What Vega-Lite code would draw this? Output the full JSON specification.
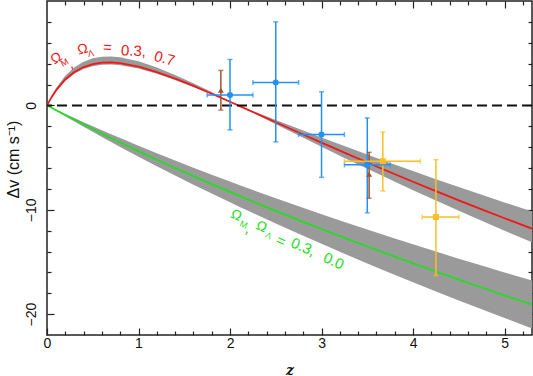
{
  "$schema": "https://vega.github.io/schema/vega-lite/v6.json",
  "width": 485,
  "height": 334,
  "autosize": {"type": "none"},
  "padding": {"left": 47, "top": 1, "right": 1, "bottom": 41},
  "background": "white",
  "config": {
    "view": {"stroke": "#222", "strokeWidth": 1.5},
    "axis": {"domain": false, "grid": false, "labelFont": "Liberation Sans", "labelFontSize": 14, "labelColor": "#111", "tickColor": "#222", "tickWidth": 1.2, "titleColor": "#111"}
  },
  "datasets": {
    "curves": [
      {"z": 0, "r": 0, "rLo": 0, "rHi": 0, "g": 0, "gLo": 0, "gHi": 0},
      {"z": 0.05, "r": 0.786, "rLo": 0.747, "rHi": 0.896, "g": -0.234, "gLo": -0.262, "gHi": -0.206},
      {"z": 0.1, "r": 1.452, "rLo": 1.379, "rHi": 1.655, "g": -0.466, "gLo": -0.522, "gHi": -0.41},
      {"z": 0.2, "r": 2.485, "rLo": 2.361, "rHi": 2.833, "g": -0.926, "gLo": -1.036, "gHi": -0.815},
      {"z": 0.3, "r": 3.2, "rLo": 3.04, "rHi": 3.648, "g": -1.379, "gLo": -1.544, "gHi": -1.213},
      {"z": 0.4, "r": 3.672, "rLo": 3.488, "rHi": 4.186, "g": -1.825, "gLo": -2.044, "gHi": -1.606},
      {"z": 0.5, "r": 3.955, "rLo": 3.757, "rHi": 4.509, "g": -2.266, "gLo": -2.538, "gHi": -1.995},
      {"z": 0.6, "r": 4.092, "rLo": 3.887, "rHi": 4.665, "g": -2.702, "gLo": -3.026, "gHi": -2.378},
      {"z": 0.7, "r": 4.113, "rLo": 3.907, "rHi": 4.689, "g": -3.131, "gLo": -3.507, "gHi": -2.755},
      {"z": 0.8, "r": 4.045, "rLo": 3.843, "rHi": 4.611, "g": -3.555, "gLo": -3.982, "gHi": -3.129},
      {"z": 1.0, "r": 3.709, "rLo": 3.524, "rHi": 4.228, "g": -4.389, "gLo": -4.917, "gHi": -3.862},
      {"z": 1.2, "r": 3.193, "rLo": 3.033, "rHi": 3.64, "g": -5.204, "gLo": -5.828, "gHi": -4.579},
      {"z": 1.4, "r": 2.562, "rLo": 2.434, "rHi": 2.921, "g": -6.0, "gLo": -6.72, "gHi": -5.28},
      {"z": 1.6, "r": 1.861, "rLo": 1.768, "rHi": 2.122, "g": -6.78, "gLo": -7.594, "gHi": -5.966},
      {"z": 1.8, "r": 1.116, "rLo": 1.06, "rHi": 1.272, "g": -7.545, "gLo": -8.45, "gHi": -6.64},
      {"z": 2.0, "r": 0.346, "rLo": 0.329, "rHi": 0.394, "g": -8.294, "gLo": -9.289, "gHi": -7.299},
      {"z": 2.1, "r": -0.044, "rLo": -0.049, "rHi": -0.038, "g": -8.664, "gLo": -9.703, "gHi": -7.624},
      {"z": 2.25, "r": -0.633, "rLo": -0.703, "rHi": -0.544, "g": -9.212, "gLo": -10.318, "gHi": -8.106},
      {"z": 2.5, "r": -1.619, "rLo": -1.797, "rHi": -1.392, "g": -10.109, "gLo": -11.322, "gHi": -8.896},
      {"z": 2.75, "r": -2.6, "rLo": -2.886, "rHi": -2.236, "g": -10.988, "gLo": -12.306, "gHi": -9.67},
      {"z": 3.0, "r": -3.572, "rLo": -3.965, "rHi": -3.072, "g": -11.847, "gLo": -13.269, "gHi": -10.425},
      {"z": 3.25, "r": -4.532, "rLo": -5.031, "rHi": -3.898, "g": -12.692, "gLo": -14.215, "gHi": -11.169},
      {"z": 3.5, "r": -5.477, "rLo": -6.079, "rHi": -4.71, "g": -13.519, "gLo": -15.141, "gHi": -11.897},
      {"z": 3.75, "r": -6.406, "rLo": -7.111, "rHi": -5.509, "g": -14.332, "gLo": -16.052, "gHi": -12.612},
      {"z": 4.0, "r": -7.32, "rLo": -8.125, "rHi": -6.295, "g": -15.13, "gLo": -16.946, "gHi": -13.314},
      {"z": 4.25, "r": -8.217, "rLo": -9.121, "rHi": -7.067, "g": -15.916, "gLo": -17.826, "gHi": -14.006},
      {"z": 4.5, "r": -9.099, "rLo": -10.1, "rHi": -7.825, "g": -16.687, "gLo": -18.689, "gHi": -14.685},
      {"z": 4.75, "r": -9.964, "rLo": -11.06, "rHi": -8.569, "g": -17.447, "gLo": -19.541, "gHi": -15.353},
      {"z": 5.0, "r": -10.815, "rLo": -12.005, "rHi": -9.301, "g": -18.195, "gLo": -20.378, "gHi": -16.012},
      {"z": 5.3, "r": -11.816, "rLo": -13.116, "rHi": -10.162, "g": -19.079, "gLo": -21.368, "gHi": -16.79}
    ],
    "points": [
      {"src": "brown", "z": 1.9, "dv": 1.45, "zlo": 1.9, "zhi": 1.9, "lo": -0.45, "hi": 3.35},
      {"src": "blue", "z": 2.0, "dv": 1.0, "zlo": 1.75, "zhi": 2.25, "lo": -2.35, "hi": 4.4},
      {"src": "blue", "z": 2.5, "dv": 2.2, "zlo": 2.25, "zhi": 2.75, "lo": -3.5, "hi": 8.0},
      {"src": "blue", "z": 3.0, "dv": -2.8, "zlo": 2.75, "zhi": 3.25, "lo": -6.9, "hi": 1.3},
      {"src": "blue", "z": 3.5, "dv": -5.7, "zlo": 3.25, "zhi": 3.75, "lo": -10.3, "hi": -1.2},
      {"src": "brown", "z": 3.52, "dv": -6.6, "zlo": 3.52, "zhi": 3.52, "lo": -8.9, "hi": -4.5},
      {"src": "yellow", "z": 3.67, "dv": -5.35, "zlo": 3.25, "zhi": 4.08, "lo": -8.2, "hi": -2.55},
      {"src": "yellow", "z": 4.25, "dv": -10.7, "zlo": 4.1, "zhi": 4.5, "lo": -16.3, "hi": -5.2}
    ],
    "zero": [{"ref": 0}],
    "labels": [
      {"grp": "rA", "z": 0.105, "dv": 4.5, "t": "Ω"},
      {"grp": "rAc", "z": 0.255, "dv": 4.0, "t": ","},
      {"grp": "rAs", "z": 0.19, "dv": 4.1, "t": "M"},
      {"grp": "rB", "z": 0.392, "dv": 5.35, "t": "Ω"},
      {"grp": "rBs", "z": 0.48, "dv": 4.98, "t": "Λ"},
      {"grp": "rC", "z": 0.66, "dv": 5.57, "t": "="},
      {"grp": "rC", "z": 0.945, "dv": 5.23, "t": "0.3,"},
      {"grp": "rD", "z": 1.284, "dv": 4.51, "t": "0.7"},
      {"grp": "gO", "z": 2.067, "dv": -10.55, "t": "Ω"},
      {"grp": "gO", "z": 2.344, "dv": -11.65, "t": "Ω"},
      {"grp": "g", "z": 2.2, "dv": -11.8, "t": ","},
      {"grp": "g", "z": 2.558, "dv": -13.0, "t": "="},
      {"grp": "g", "z": 2.8, "dv": -13.56, "t": "0.3,"},
      {"grp": "g", "z": 3.133, "dv": -14.91, "t": "0.0"},
      {"grp": "gs", "z": 2.15, "dv": -11.42, "t": "M"},
      {"grp": "gs", "z": 2.42, "dv": -12.5, "t": "Λ"}
    ]
  },
  "resolve": {"axis": {"x": "independent", "y": "independent"}},
  "layer": [
    {
      "data": {"name": "curves"},
      "mark": {"type": "area", "color": "#9a9a9a", "opacity": 1},
      "encoding": {
        "x": {"field": "z", "type": "quantitative", "scale": {"domain": [0, 5.3], "nice": false, "zero": false},
          "axis": {"orient": "bottom", "title": "z", "titleFont": "DejaVu Serif", "titleFontStyle": "italic", "titleFontWeight": "bold", "titleFontSize": 14, "titlePadding": 13,
            "values": [0, 0.2, 0.4, 0.6, 0.8, 1, 1.2, 1.4, 1.6, 1.8, 2, 2.2, 2.4, 2.6, 2.8, 3, 3.2, 3.4, 3.6, 3.8, 4, 4.2, 4.4, 4.6, 4.8, 5, 5.2],
            "labelExpr": "abs(datum.value - round(datum.value)) < 0.01 ? format(datum.value, 'd') : ''",
            "tickSize": {"condition": {"test": "abs(datum.value - round(datum.value)) < 0.01", "value": -7}, "value": -4},
            "labelPadding": 8, "labelFlush": false}},
        "y": {"field": "rLo", "type": "quantitative", "scale": {"domain": [-22, 10], "nice": false, "zero": false},
          "axis": {"orient": "left", "title": "Δv (cm s⁻¹)", "titleFont": "Liberation Sans", "titleFontSize": 16, "titleFontWeight": "normal", "titlePadding": 3, "titleY": 158,
            "values": [-20, -18, -16, -14, -12, -10, -8, -6, -4, -2, 0, 2, 4, 6, 8],
            "labelExpr": "datum.value % 10 === 0 ? format(datum.value, 'd') : ''",
            "labelAngle": -90, "labelAlign": "center", "labelBaseline": "bottom",
            "tickSize": {"condition": {"test": "datum.value % 10 === 0", "value": -7}, "value": -4},
            "labelPadding": 16, "labelFlush": false}},
        "y2": {"field": "rHi"}
      }
    },
    {
      "data": {"name": "curves"},
      "mark": {"type": "area", "color": "#9a9a9a", "opacity": 1},
      "encoding": {
        "x": {"field": "z", "type": "quantitative",
          "axis": {"orient": "top", "title": null, "labels": false,
            "values": [0.2, 0.4, 0.6, 0.8, 1, 1.2, 1.4, 1.6, 1.8, 2, 2.2, 2.4, 2.6, 2.8, 3, 3.2, 3.4, 3.6, 3.8, 4, 4.2, 4.4, 4.6, 4.8, 5, 5.2],
            "tickSize": {"condition": {"test": "abs(datum.value - round(datum.value)) < 0.01", "value": -7}, "value": -4}}},
        "y": {"field": "gLo", "type": "quantitative",
          "axis": {"orient": "right", "title": null, "labels": false,
            "values": [-20, -18, -16, -14, -12, -10, -8, -6, -4, -2, 0, 2, 4, 6, 8],
            "tickSize": {"condition": {"test": "datum.value % 10 === 0", "value": -7}, "value": -4}}},
        "y2": {"field": "gHi"}
      }
    },
    {
      "data": {"name": "curves"},
      "mark": {"type": "line", "color": "#f01818", "strokeWidth": 1.8},
      "encoding": {
        "x": {"field": "z", "type": "quantitative", "axis": null},
        "y": {"field": "r", "type": "quantitative", "axis": null}
      }
    },
    {
      "data": {"name": "curves"},
      "mark": {"type": "line", "color": "#22dd22", "strokeWidth": 1.8},
      "encoding": {
        "x": {"field": "z", "type": "quantitative", "axis": null},
        "y": {"field": "g", "type": "quantitative", "axis": null}
      }
    },
    {
      "data": {"name": "zero"},
      "mark": {"type": "rule", "color": "#111", "strokeWidth": 2, "strokeDash": [10, 5]},
      "encoding": {
        "y": {"field": "ref", "type": "quantitative", "axis": null}
      }
    },
    {
      "data": {"name": "labels"},
      "transform": [{"filter": "datum.grp === 'rA'"}],
      "mark": {"type": "text", "color": "#f01818", "font": "Liberation Sans", "fontSize": 14, "angle": -35, "align": "center", "baseline": "middle"},
      "encoding": {"x": {"field": "z", "type": "quantitative", "axis": null}, "y": {"field": "dv", "type": "quantitative", "axis": null}, "text": {"field": "t"}}
    },
    {
      "data": {"name": "labels"},
      "transform": [{"filter": "datum.grp === 'rAc'"}],
      "mark": {"type": "text", "color": "#f01818", "font": "Liberation Sans", "fontSize": 15, "angle": -25, "align": "center", "baseline": "middle"},
      "encoding": {"x": {"field": "z", "type": "quantitative", "axis": null}, "y": {"field": "dv", "type": "quantitative", "axis": null}, "text": {"field": "t"}}
    },
    {
      "data": {"name": "labels"},
      "transform": [{"filter": "datum.grp === 'rAs'"}],
      "mark": {"type": "text", "color": "#f01818", "font": "Liberation Sans", "fontSize": 9, "angle": -30, "align": "center", "baseline": "middle"},
      "encoding": {"x": {"field": "z", "type": "quantitative", "axis": null}, "y": {"field": "dv", "type": "quantitative", "axis": null}, "text": {"field": "t"}}
    },
    {
      "data": {"name": "labels"},
      "transform": [{"filter": "datum.grp === 'rB'"}],
      "mark": {"type": "text", "color": "#f01818", "font": "Liberation Sans", "fontSize": 14, "angle": -15, "align": "center", "baseline": "middle"},
      "encoding": {"x": {"field": "z", "type": "quantitative", "axis": null}, "y": {"field": "dv", "type": "quantitative", "axis": null}, "text": {"field": "t"}}
    },
    {
      "data": {"name": "labels"},
      "transform": [{"filter": "datum.grp === 'rBs'"}],
      "mark": {"type": "text", "color": "#f01818", "font": "Liberation Sans", "fontSize": 9, "angle": -12, "align": "center", "baseline": "middle"},
      "encoding": {"x": {"field": "z", "type": "quantitative", "axis": null}, "y": {"field": "dv", "type": "quantitative", "axis": null}, "text": {"field": "t"}}
    },
    {
      "data": {"name": "labels"},
      "transform": [{"filter": "datum.grp === 'rC'"}],
      "mark": {"type": "text", "color": "#f01818", "font": "Liberation Sans", "fontSize": 15, "angle": 3, "align": "center", "baseline": "middle"},
      "encoding": {"x": {"field": "z", "type": "quantitative", "axis": null}, "y": {"field": "dv", "type": "quantitative", "axis": null}, "text": {"field": "t"}}
    },
    {
      "data": {"name": "labels"},
      "transform": [{"filter": "datum.grp === 'rD'"}],
      "mark": {"type": "text", "color": "#f01818", "font": "Liberation Sans", "fontSize": 15, "angle": 15, "align": "center", "baseline": "middle"},
      "encoding": {"x": {"field": "z", "type": "quantitative", "axis": null}, "y": {"field": "dv", "type": "quantitative", "axis": null}, "text": {"field": "t"}}
    },
    {
      "data": {"name": "labels"},
      "transform": [{"filter": "datum.grp === 'gO'"}],
      "mark": {"type": "text", "color": "#22dd22", "font": "Liberation Sans", "fontSize": 14, "angle": 24, "align": "center", "baseline": "middle"},
      "encoding": {"x": {"field": "z", "type": "quantitative", "axis": null}, "y": {"field": "dv", "type": "quantitative", "axis": null}, "text": {"field": "t"}}
    },
    {
      "data": {"name": "labels"},
      "transform": [{"filter": "datum.grp === 'g'"}],
      "mark": {"type": "text", "color": "#22dd22", "font": "Liberation Sans", "fontSize": 15, "angle": 24, "align": "center", "baseline": "middle"},
      "encoding": {"x": {"field": "z", "type": "quantitative", "axis": null}, "y": {"field": "dv", "type": "quantitative", "axis": null}, "text": {"field": "t"}}
    },
    {
      "data": {"name": "labels"},
      "transform": [{"filter": "datum.grp === 'gs'"}],
      "mark": {"type": "text", "color": "#22dd22", "font": "Liberation Sans", "fontSize": 9, "angle": 24, "align": "center", "baseline": "middle"},
      "encoding": {"x": {"field": "z", "type": "quantitative", "axis": null}, "y": {"field": "dv", "type": "quantitative", "axis": null}, "text": {"field": "t"}}
    },
    {
      "data": {"name": "points"},
      "mark": {"type": "rule", "strokeWidth": 1.5},
      "encoding": {
        "x": {"field": "z", "type": "quantitative", "axis": null},
        "y": {"field": "lo", "type": "quantitative", "axis": null},
        "y2": {"field": "hi"},
        "color": {"field": "src", "type": "nominal", "scale": {"domain": ["blue", "brown", "yellow"], "range": ["#2290f5", "#a0522d", "#fbbf24"]}, "legend": null}
      }
    },
    {
      "data": {"name": "points"},
      "transform": [{"filter": "datum.zlo < datum.zhi"}],
      "mark": {"type": "rule", "strokeWidth": 1.5},
      "encoding": {
        "x": {"field": "zlo", "type": "quantitative", "axis": null},
        "x2": {"field": "zhi"},
        "y": {"field": "dv", "type": "quantitative", "axis": null},
        "color": {"field": "src", "type": "nominal", "legend": null}
      }
    },
    {
      "data": {"name": "points"},
      "mark": {"type": "tick", "orient": "horizontal", "size": 5, "thickness": 1.5},
      "encoding": {
        "x": {"field": "z", "type": "quantitative", "axis": null},
        "y": {"field": "hi", "type": "quantitative", "axis": null},
        "color": {"field": "src", "type": "nominal", "legend": null}
      }
    },
    {
      "data": {"name": "points"},
      "mark": {"type": "tick", "orient": "horizontal", "size": 5, "thickness": 1.5},
      "encoding": {
        "x": {"field": "z", "type": "quantitative", "axis": null},
        "y": {"field": "lo", "type": "quantitative", "axis": null},
        "color": {"field": "src", "type": "nominal", "legend": null}
      }
    },
    {
      "data": {"name": "points"},
      "transform": [{"filter": "datum.zlo < datum.zhi"}],
      "mark": {"type": "tick", "orient": "vertical", "size": 5, "thickness": 1.5},
      "encoding": {
        "x": {"field": "zlo", "type": "quantitative", "axis": null},
        "y": {"field": "dv", "type": "quantitative", "axis": null},
        "color": {"field": "src", "type": "nominal", "legend": null}
      }
    },
    {
      "data": {"name": "points"},
      "transform": [{"filter": "datum.zlo < datum.zhi"}],
      "mark": {"type": "tick", "orient": "vertical", "size": 5, "thickness": 1.5},
      "encoding": {
        "x": {"field": "zhi", "type": "quantitative", "axis": null},
        "y": {"field": "dv", "type": "quantitative", "axis": null},
        "color": {"field": "src", "type": "nominal", "legend": null}
      }
    },
    {
      "data": {"name": "points"},
      "mark": {"type": "point", "filled": true, "opacity": 1, "size": 36},
      "encoding": {
        "x": {"field": "z", "type": "quantitative", "axis": null},
        "y": {"field": "dv", "type": "quantitative", "axis": null},
        "color": {"field": "src", "type": "nominal", "legend": null},
        "shape": {"field": "src", "type": "nominal", "scale": {"domain": ["blue", "brown", "yellow"], "range": ["circle", "triangle-up", "square"]}, "legend": null}
      }
    }
  ]
}
